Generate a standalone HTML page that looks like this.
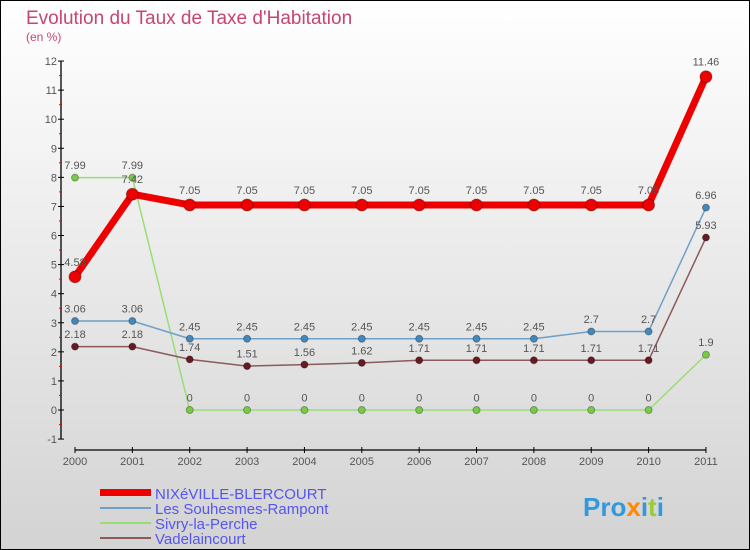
<!DOCTYPE html>
<html><head><meta charset="utf-8"><style>
body{margin:0}
#c{width:750px;height:550px;position:relative;overflow:hidden}
svg text{font-family:"Liberation Sans",sans-serif}
</style></head><body>
<div id="c">
<svg id="s" width="750" height="550" xmlns="http://www.w3.org/2000/svg">
<defs><linearGradient id="bg" x1="0" y1="0" x2="0" y2="1"><stop offset="0" stop-color="#ffffff"/><stop offset="1" stop-color="#d3d3d3"/></linearGradient></defs>
<rect x="0.5" y="0.5" width="749" height="549" fill="url(#bg)" stroke="#000"/>
<text x="26" y="24" font-size="19" fill="#c8456f">Evolution du Taux de Taxe d'Habitation</text>
<text x="26" y="41" font-size="12" fill="#c8456f">(en %)</text>
<g id="axes"></g><g id="series"></g>
<g>
<rect x="100" y="489" width="51" height="7" fill="#e00"/>
<text x="155" y="499" font-size="15" fill="#5555ee">NIXéVILLE-BLERCOURT</text>
<rect x="100" y="507" width="51" height="2" fill="#6fa0c8"/>
<text x="155" y="514" font-size="15" fill="#5555ee">Les Souhesmes-Rampont</text>
<rect x="100" y="522" width="51" height="2" fill="#99dd77"/>
<text x="155" y="529" font-size="15" fill="#5555ee">Sivry-la-Perche</text>
<rect x="100" y="537" width="51" height="2" fill="#8b5a5a"/>
<text x="155" y="544" font-size="15" fill="#5555ee">Vadelaincourt</text>
</g>
<text x="583" y="516" font-size="26" font-weight="bold" fill="#3399dd">Pro<tspan fill="#ff8800">x</tspan>i<tspan fill="#99cc33">t</tspan>i</text>
</svg></div>
<script>
const years=["2000","2001","2002","2003","2004","2005","2006","2007","2008","2009","2010","2011"];
const yTicks=[-1,0,1,2,3,4,5,6,7,8,9,10,11,12];
const nixeville=[4.58,7.42,7.05,7.05,7.05,7.05,7.05,7.05,7.05,7.05,7.05,11.46];
const souhesmes=[3.06,3.06,2.45,2.45,2.45,2.45,2.45,2.45,2.45,2.7,2.7,6.96];
const sivry=[7.99,7.99,0,0,0,0,0,0,0,0,0,1.9];
const vadelaincourt=[2.18,2.18,1.74,1.51,1.56,1.62,1.71,1.71,1.71,1.71,1.71,5.93];
const NS="http://www.w3.org/2000/svg";
const X=i=>75+i*57.36, Y=v=>410-v*29.08;
function mk(t,a,p){const e=document.createElementNS(NS,t);for(const k in a)e.setAttribute(k,a[k]);p.appendChild(e);return e;}
const ax=document.getElementById('axes');
let yl=mk('line',{x1:61,y1:Y(12),x2:61,y2:Y(-1),stroke:'#000','stroke-width':1.3},ax);


yTicks.forEach(v=>{
 mk('line',{x1:58,x2:64,y1:Y(v),y2:Y(v),stroke:'#000'},ax);
 if(v<12)mk('line',{x1:59,x2:62,y1:Y(v+0.5),y2:Y(v+0.5),stroke:'#e00'},ax);
 const t=mk('text',{x:57,y:Y(v)+4,'font-size':11,fill:'#555','text-anchor':'end'},ax);t.textContent=v;
 
 
});
let xl=mk('line',{x1:X(0),y1:450,x2:X(11),y2:450,stroke:'#000','stroke-width':1.3},ax);


years.forEach((y,i)=>{
 mk('line',{x1:X(i),x2:X(i),y1:447,y2:453,stroke:'#000'},ax);
 const t=mk('text',{x:X(i),y:465,'font-size':11,fill:'#555','text-anchor':'middle'},ax);t.textContent=y;
 
 
});
const sg=document.getElementById('series');
function draw(d,color,w,r,dot,name){
 const g=mk('g',{},sg);
 
 
 mk('polyline',{points:d.map((v,i)=>X(i)+','+Y(v)).join(' '),fill:'none',stroke:color,'stroke-width':w,'stroke-linejoin':'round'},g);
 d.forEach((v,i)=>{
  const c=mk('circle',{cx:X(i),cy:Y(v),r:r,fill:dot,stroke:'rgba(0,0,0,0.3)'},g);
  
  
  const t=mk('text',{x:X(i),y:Y(v)-r-5,'font-size':11,fill:'#555','text-anchor':'middle'},g);t.textContent=v;
  
  
 });
}
draw(sivry,'#99dd77',1.5,3.5,'#77cc44','series-sivry');
draw(souhesmes,'#6fa0c8',1.5,3.5,'#4488bb','series-souhesmes');
draw(vadelaincourt,'#8b5a5a',1.5,3.5,'#661a22','series-vadelaincourt');
draw(nixeville,'#ee0000',7,6,'#ee0000','series-nixeville');
</script>
</body></html>
